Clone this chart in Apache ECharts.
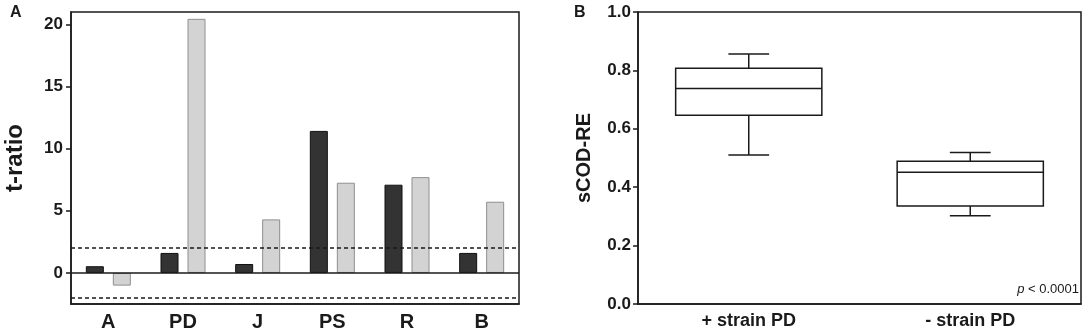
<!DOCTYPE html>
<html>
<head>
<meta charset="utf-8">
<script src="https://cdn.jsdelivr.net/npm/echarts@6/dist/echarts.min.js"></script>
<style>
  html, body { margin: 0; padding: 0; background: #fff; }
  #main { width: 1084px; height: 333px; }
</style>
</head>
<body>
<div id="main"></div>
<script>
// panel A: t-ratio per parameter, two groups of bars
var categoriesA = ['A', 'PD', 'J', 'PS', 'R', 'B'];
var darkValues = [0.54, 1.61, 0.72, 11.43, 7.10, 1.61];
var lightValues = [-1.02, 20.45, 4.31, 7.26, 7.71, 5.73];
var tickValuesA = [0, 5, 10, 15, 20];
var thresholds = [2, -2];

// panel B: box plots of sCOD-RE  [min, Q1, median, Q3, max]
var categoriesB = ['+ strain PD', '- strain PD'];
var boxStats = [
  [0.510, 0.646, 0.738, 0.807, 0.856],
  [0.302, 0.336, 0.451, 0.489, 0.519]
];
var pText = 'p < 0.0001';

var FONT = 'Liberation Sans, Arial, sans-serif';
var INK = '#1a1a1a';

var myChart = echarts.init(document.getElementById('main'));

var boxData = boxStats.map(function (s, i) {
  return [i].concat(s);
});

// box with short whisker caps, drawn through the axes' own coords
function renderBox(params, api) {
  var x = api.value(0);
  var lo = api.coord([x, api.value(1)]);
  var q1 = api.coord([x, api.value(2)]);
  var med = api.coord([x, api.value(3)]);
  var q3 = api.coord([x, api.value(4)]);
  var hi = api.coord([x, api.value(5)]);
  var band = api.size([1, 0])[0];
  var half = band * 0.33;
  var cap = band * 0.092;
  var cx = lo[0];
  var st = { stroke: INK, lineWidth: 1.5, fill: null };
  return {
    type: 'group',
    children: [
      { type: 'line', shape: { x1: cx, y1: hi[1], x2: cx, y2: q3[1] }, style: st },
      { type: 'line', shape: { x1: cx, y1: q1[1], x2: cx, y2: lo[1] }, style: st },
      { type: 'line', shape: { x1: cx - cap, y1: hi[1], x2: cx + cap, y2: hi[1] }, style: st },
      { type: 'line', shape: { x1: cx - cap, y1: lo[1], x2: cx + cap, y2: lo[1] }, style: st },
      { type: 'rect', shape: { x: cx - half, y: q3[1], width: half * 2, height: q1[1] - q3[1] },
        style: { stroke: INK, lineWidth: 1.5, fill: '#fff' } },
      { type: 'line', shape: { x1: cx - half, y1: med[1], x2: cx + half, y2: med[1] }, style: st }
    ]
  };
}

var axisLabelStyle = { color: INK, fontFamily: FONT, fontWeight: 'bold' };
var panelLetter = { fontSize: 16, fontWeight: 'bold', fontFamily: FONT, fill: INK };

option = {
  animation: false,
  textStyle: { fontFamily: FONT, color: INK },
  grid: [
    { left: 71, right: 565, top: 12, bottom: 29, show: true, borderColor: INK, borderWidth: 1.5 },
    { left: 638, right: 3, top: 12, bottom: 29, show: true, borderColor: INK, borderWidth: 1.5 }
  ],
  graphic: [
    { type: 'text', left: 10, top: 5, style: Object.assign({ text: 'A' }, panelLetter) },
    { type: 'text', left: 574, top: 5, style: Object.assign({ text: 'B' }, panelLetter) },
    { type: 'text', right: 5, top: 283,
      style: { rich: { i: { fontStyle: 'italic', fontSize: 13, fontFamily: FONT, fill: INK }, n: { fontSize: 13, fontFamily: FONT, fill: INK } },
               text: '{i|p}{n|' + pText.slice(1) + '}' } }
  ],
  xAxis: [
    {
      type: 'category', gridIndex: 0, data: categoriesA,
      axisLine: { onZero: false, lineStyle: { color: INK, width: 1.5 } },
      axisTick: { alignWithLabel: true, length: 5, lineStyle: { color: INK, width: 1.5 } },
      axisLabel: Object.assign({ fontSize: 20, margin: 8 }, axisLabelStyle),
      splitLine: { show: false }
    },
    {
      type: 'category', gridIndex: 1, data: categoriesB,
      axisLine: { lineStyle: { color: INK, width: 1.5 } },
      axisTick: { alignWithLabel: true, length: 5, lineStyle: { color: INK, width: 1.5 } },
      axisLabel: Object.assign({ fontSize: 18, margin: 8 }, axisLabelStyle),
      splitLine: { show: false }
    }
  ],
  yAxis: [
    {
      type: 'value', gridIndex: 0, min: -2.5, max: 21,
      name: 't-ratio', nameLocation: 'middle', nameGap: 44,
      nameTextStyle: { fontSize: 24, fontWeight: 'bold', color: INK, fontFamily: FONT },
      axisLine: { show: true, lineStyle: { color: INK, width: 1.5 } },
      axisTick: { show: true, length: 5, customValues: tickValuesA, lineStyle: { color: INK, width: 1.5 } },
      axisLabel: Object.assign({ fontSize: 17, margin: 8, customValues: tickValuesA }, axisLabelStyle),
      splitLine: { show: false }
    },
    {
      type: 'value', gridIndex: 1, min: 0, max: 1, interval: 0.2,
      name: 'sCOD-RE', nameLocation: 'middle', nameGap: 44,
      nameTextStyle: { fontSize: 20, fontWeight: 'bold', color: INK, fontFamily: FONT },
      axisLine: { show: true, lineStyle: { color: INK, width: 1.5 } },
      axisTick: { show: true, length: 5, lineStyle: { color: INK, width: 1.5 } },
      axisLabel: Object.assign({ fontSize: 17, margin: 7, formatter: function (v) { return v.toFixed(1); } }, axisLabelStyle),
      splitLine: { show: false }
    }
  ],
  series: [
    {
      name: 'dark', type: 'bar', xAxisIndex: 0, yAxisIndex: 0,
      data: darkValues, barWidth: 18, barGap: '50%',
      itemStyle: { color: '#333333', borderColor: '#111111', borderWidth: 1 },
      markLine: {
        silent: true, symbol: 'none', label: { show: false },
        data: [
          { yAxis: 0, lineStyle: { type: 'solid', color: INK, width: 1.5 } },
          { yAxis: thresholds[0], lineStyle: { type: [4, 3], color: INK, width: 1.5 } },
          { yAxis: thresholds[1], lineStyle: { type: [4, 3], color: INK, width: 1.5 } }
        ]
      }
    },
    {
      name: 'light', type: 'bar', xAxisIndex: 0, yAxisIndex: 0,
      data: lightValues, barWidth: 18, barGap: '50%',
      itemStyle: { color: '#d3d3d3', borderColor: '#8f8f8f', borderWidth: 1 }
    },
    {
      name: 'sCOD-RE', type: 'custom', xAxisIndex: 1, yAxisIndex: 1,
      data: boxData, renderItem: renderBox,
      encode: { x: 0, y: [1, 2, 3, 4, 5] }
    }
  ]
};

myChart.setOption(option);
</script>
</body>
</html>
